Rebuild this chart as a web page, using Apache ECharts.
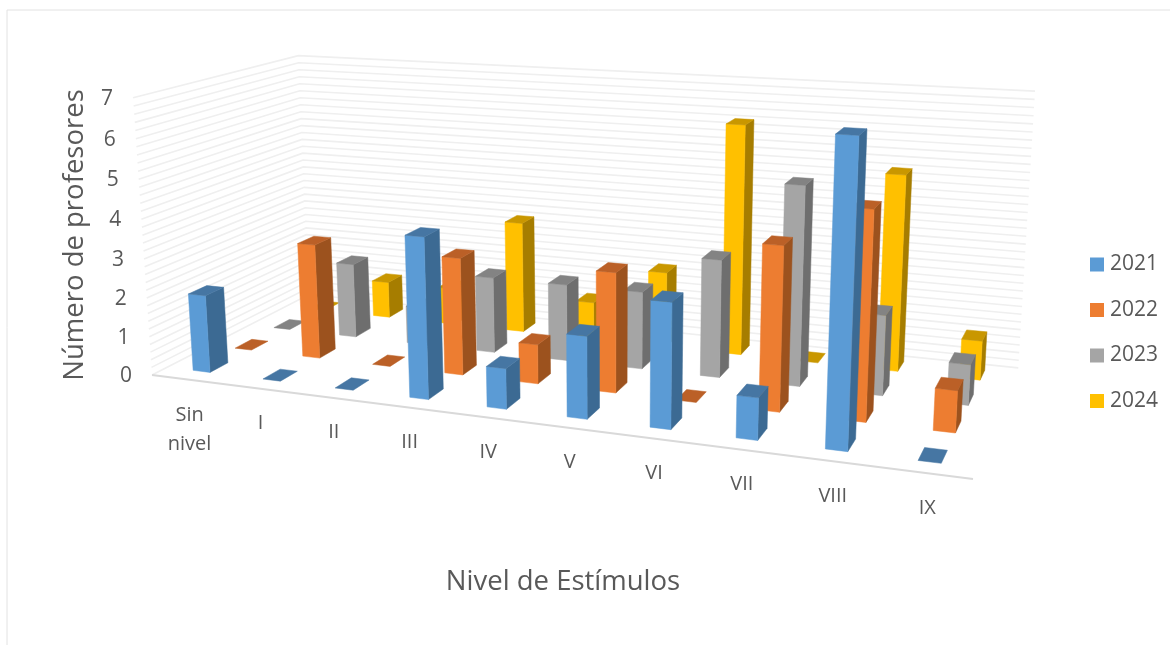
<!DOCTYPE html>
<html><head><meta charset="utf-8">
<style>html,body{margin:0;padding:0;background:#fff}#c{width:1170px;height:645px}</style>
<script src="https://cdn.jsdelivr.net/npm/echarts@6/dist/echarts.min.js"></script>
</head><body><div id="c"></div>
<script>
const categories = ['Sin\nnivel','I','II','III','IV','V','VI','VII','VIII','IX'];
const years = ['2021','2022','2023','2024'];
const v2021 = [2,0,0,4,1,2,3,1,7,0];
const v2022 = [0,3,0,3,1,3,0,4,5,1];
const v2023 = [0,2,1,2,2,2,3,5,2,1];
const v2024 = [0,1,1,3,1,2,6,0,5,1];
const yTicks = [0,1,2,3,4,5,6,7];
const gridValues = [];
for (let k = 0; k <= 35; k++) gridValues.push(+(k * 0.2).toFixed(1));
const faces = [
  {front:'#5B9BD5', side:'#3C6A93', top:'#4676A3'},
  {front:'#ED7D31', side:'#9C521E', top:'#BB6027'},
  {front:'#A5A5A5', side:'#6E6E6E', top:'#838383'},
  {front:'#FFC000', side:'#A67D00', top:'#C99700'}
];
const TXT = '#595959', FONT = '"Open Sans", sans-serif';
const MAXV = 7, NC = categories.length;
const barW = 0.245, barD = 0.105, rowStart = 0.085, rowPitch = 0.25;

// pinhole camera for the 3D box
const A=[152,375], B=[973,479], D=[309,294.5], Vp=[611,7100];
const g=-0.165, h=0.168, vz=-0.0396;
const a=B[0]*(1+g)-A[0], d=B[1]*(1+g)-A[1], b=D[0]*(1+h)-A[0], e=D[1]*(1+h)-A[1];
function proj(u,w,t){
  const k=g*u+h*w+1+vz*t;
  return [(a*u+b*w+A[0]+vz*Vp[0]*t)/k,(d*u+e*w+A[1]+vz*Vp[1]*t)/k];
}
// goes through the chart's own (hidden) scales
function P(api,cs,x,depth,val){
  const c=api.coord([x,val]);
  return proj((c[0]-cs.x)/cs.width,depth,1-(c[1]-cs.y)/cs.height);
}
function renderBar(params,api){
  const cs=params.coordSys,i=api.value(0),val=api.value(1),r=api.value(2),col=faces[r];
  const x0=i+0.5-barW/2,x1=i+0.5+barW/2;
  const w0=rowStart+r*rowPitch,w1=w0+barD;
  const p=(x,w,v)=>P(api,cs,x,w,v);
  const poly=(pts,c)=>({type:'polygon',shape:{points:pts},style:{fill:c,stroke:c,lineWidth:0.5}});
  const ch=[];
  if(val>0){
    ch.push(poly([p(x1,w0,0),p(x1,w1,0),p(x1,w1,val),p(x1,w0,val)],col.side));
    ch.push(poly([p(x0,w0,0),p(x1,w0,0),p(x1,w0,val),p(x0,w0,val)],col.front));
  }
  ch.push(poly([p(x0,w0,val),p(x1,w0,val),p(x1,w1,val),p(x0,w1,val)],col.top));
  return {type:'group',children:ch};
}
function renderWall(params,api){
  const cs=params.coordSys,v=api.value(0);
  return {type:'polyline',shape:{points:[P(api,cs,0,0,v),P(api,cs,0,1,v),P(api,cs,NC,1,v)]},
    style:{fill:null,stroke:'#EFEFEF',lineWidth:1.6}};
}
function renderFront(params,api){
  const cs=params.coordSys;
  return {type:'line',shape:{x1:P(api,cs,0,0,0)[0],y1:P(api,cs,0,0,0)[1],x2:P(api,cs,NC,0,0)[0],y2:P(api,cs,NC,0,0)[1]},
    style:{stroke:'#D9D9D9',lineWidth:2}};
}
function renderY(params,api){
  const cs=params.coordSys,v=api.value(0),p=P(api,cs,0,0,v);
  return {type:'text',style:{text:String(v),x:p[0]-26,y:p[1]+1,align:'center',verticalAlign:'middle',fontSize:21,fontFamily:FONT,fill:TXT}};
}
function renderX(params,api){
  const cs=params.coordSys,i=api.value(0),p=P(api,cs,i+0.5,0,0);
  const two=categories[i].indexOf('\n')>=0;
  return {type:'text',style:{text:categories[i],x:p[0]+3,y:p[1]+(two?50:35),align:'center',verticalAlign:'middle',fontSize:20,lineHeight:29,fontFamily:FONT,fill:TXT}};
}
const base={type:'custom',coordinateSystem:'cartesian2d',silent:true,animation:false,clip:false};
const rows=[v2021,v2022,v2023,v2024];
const series=[
  Object.assign({},base,{name:'walls',z:1,renderItem:renderWall,data:gridValues.map(v=>[v]),encode:{y:0}}),
  Object.assign({},base,{name:'front',z:1,renderItem:renderFront,data:[[0]],encode:{x:0}}),
];
years.forEach((y,r)=>{
  series.push(Object.assign({},base,{name:y,z:10-r,itemStyle:{color:faces[r].front},renderItem:renderBar,
    data:rows[r].map((v,i)=>[i,v,r]),encode:{x:0,y:1}}));
});
series.push(Object.assign({},base,{name:'ylab',z:20,renderItem:renderY,data:yTicks.map(v=>[v]),encode:{y:0}}));
series.push(Object.assign({},base,{name:'xlab',z:20,renderItem:renderX,data:categories.map((c,i)=>[i]),encode:{x:0}}));

const chart=echarts.init(document.getElementById('c'),null,{renderer:'canvas'});
chart.setOption({
  animation:false,backgroundColor:'#fff',
  grid:{left:0,right:0,top:0,bottom:0},
  xAxis:{type:'value',min:0,max:NC,show:false},
  yAxis:{type:'value',min:0,max:MAXV,show:false},
  legend:{data:years,orient:'vertical',left:1085,top:249,itemWidth:14,itemHeight:14,itemGap:24.5,icon:'rect',
    selectedMode:false,textStyle:{fontSize:21,color:TXT,fontFamily:FONT,padding:[0,0,0,1]}},
  graphic:[
    {type:'line',shape:{x1:7,y1:10,x2:1170,y2:10},style:{stroke:'#E2E2E2',lineWidth:1},silent:true},
    {type:'line',shape:{x1:7,y1:10,x2:7,y2:645},style:{stroke:'#E2E2E2',lineWidth:1},silent:true},
    {type:'text',x:563,y:582,style:{text:'Nivel de Estímulos',align:'center',verticalAlign:'middle',fontSize:27.5,fontFamily:FONT,fill:TXT},silent:true},
    {type:'text',x:75,y:235,rotation:Math.PI/2,style:{text:'Número de profesores',align:'center',verticalAlign:'middle',fontSize:27.5,fontFamily:FONT,fill:TXT},silent:true}
  ],
  series:series
});
</script></body></html>
